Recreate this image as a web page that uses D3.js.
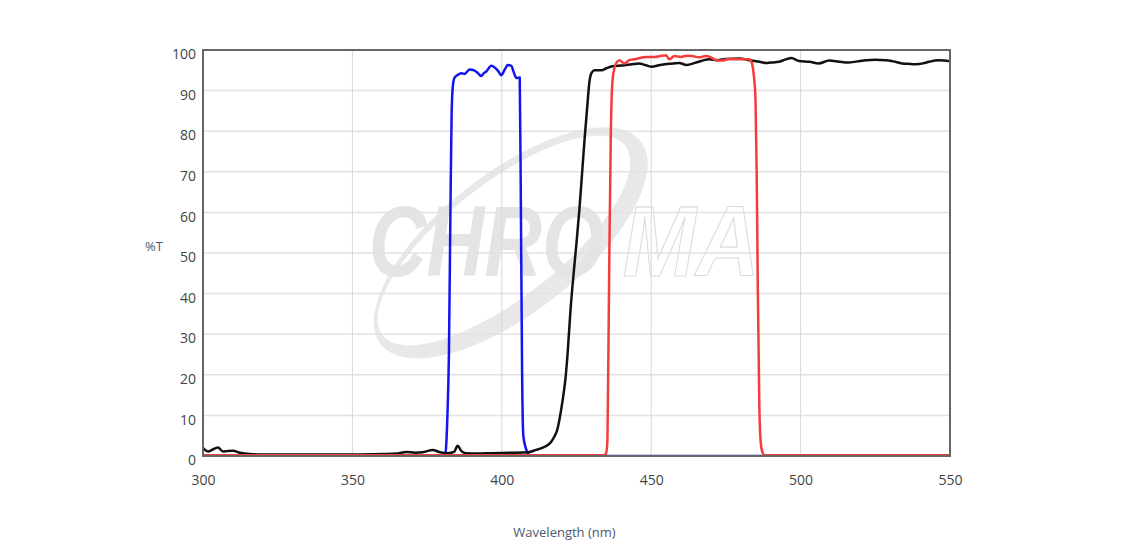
<!DOCTYPE html>
<html>
<head>
<meta charset="utf-8">
<script src="https://cdn.jsdelivr.net/npm/d3@7"></script>
<style>
  body { margin: 0; background: #fff; }
  svg { display: block; font-family: "Open Sans", "Noto Sans", sans-serif; }
</style>
</head>
<body>
<div id="chart"></div>
<script>
    // Transmission curves (wavelength in nm, %T)
    const blackWl = [300, 301.7, 303, 305, 306.7, 308, 310, 312.4, 315.7, 320, 330, 340, 350, 360, 365, 368, 371, 373.5, 376.9, 379, 382, 384, 385.2, 386.5, 388, 392, 396, 402.6, 408.7, 411.5, 413.5, 415.4, 416.6, 417.6, 418.5, 419.3, 420, 420.7, 421.3, 422, 423, 424.3, 425, 426, 427, 427.7, 428.7, 429.3, 430, 431, 433.4, 435, 437, 440, 443, 446, 448, 450, 453, 456, 459.4, 461.8, 465, 469.5, 472, 475, 479.5, 483, 486.2, 488.5, 490, 492.8, 494, 496.9, 499.5, 503, 506, 509.6, 513, 516, 519, 522, 525, 528.6, 531, 534, 536, 538.6, 541, 543, 546, 548, 550];
    const blackT = [2.0, 1.1, 1.5, 2.1, 1.1, 1.2, 1.3, 0.8, 0.5, 0.4, 0.4, 0.4, 0.4, 0.5, 0.6, 1.0, 0.8, 0.9, 1.5, 1.0, 0.7, 1.0, 2.5, 1.2, 0.7, 0.6, 0.7, 0.8, 0.9, 1.5, 2.0, 2.7, 3.6, 4.8, 6.3, 9, 12, 15.5, 19, 25, 36, 47, 52.5, 61, 71, 78, 87, 92, 94.3, 95, 95, 95.5, 96, 96.2, 96.4, 96.7, 96.3, 95.9, 96.3, 96.6, 96.8, 96.3, 96.9, 97.7, 97.5, 97.8, 97.9, 97.5, 97.1, 96.8, 96.9, 97.1, 97.4, 98, 97.3, 97.1, 96.7, 97.4, 97.1, 96.9, 97.2, 97.5, 97.6, 97.5, 97.2, 96.7, 96.6, 96.5, 96.7, 97.1, 97.5, 97.4, 97.2];

    const blueWl = [300, 381, 381.8, 382.3, 382.8, 383.2, 383.6, 384.2, 385.5, 386.5, 387.6, 388.3, 389.2, 390.9, 392, 393.1, 394, 394.8, 396.5, 397.6, 398.8, 399.8, 401, 402, 403.2, 404, 404.9, 406, 406.4, 406.8, 407.2, 408, 408.6, 409.3, 410, 550];
    const blueT = [0, 0, 10, 25, 60, 84, 91, 93.2, 94, 94.3, 94.1, 94.6, 95.2, 94.9, 94.3, 93.6, 94.3, 94.7, 96.1, 95.7, 94.8, 93.8, 95.2, 96.3, 96.1, 94.5, 93.1, 93.2, 60, 20, 5, 2, 0.8, 0.1, 0, 0];

    const redWl = [300, 434, 434.8, 435.3, 435.6, 436, 436.5, 437, 437.7, 438.5, 439.4, 441, 442.7, 445, 448.3, 451, 453, 455, 456, 457.8, 460, 462, 463.8, 466, 468.3, 470, 471.7, 473.8, 476, 479.5, 482.8, 483.6, 484.3, 484.9, 485.3, 485.7, 486.2, 486.7, 487.3, 488, 550];
    const redT = [0.2, 0.2, 0.5, 3, 20, 50, 80, 92, 95.6, 97, 97.5, 96.7, 97.5, 97.8, 98.3, 98.3, 98.5, 98.7, 97.7, 98.5, 98.3, 98.6, 98.5, 98.2, 98.5, 98.2, 97.5, 97.4, 97.8, 97.7, 97.7, 97, 94, 88, 70, 40, 12, 3, 0.8, 0.2, 0.2];

    const xTicks = [300, 350, 400, 450, 500, 550];
    const yTicks = [0, 10, 20, 30, 40, 50, 60, 70, 80, 90, 100];

    const series = [
        { name: "excitation", wl: blueWl, t: blueT, color: "#1414f0" },
        { name: "dichroic", wl: blackWl, t: blackT, color: "#111111" },
        { name: "emission", wl: redWl, t: redT, color: "#f53c3c" }
    ];

    // Set up the dimensions/margins of the chart
    const W = 1128, H = 558;
    const margin = { top: 50, right: 178, bottom: 102, left: 203 };
    const width = W - margin.left - margin.right;
    const height = H - margin.top - margin.bottom;

    const svg = d3.select("#chart").append("svg")
        .attr("width", W)
        .attr("height", H);

    const g = svg.append("g")
        .attr("transform", "translate(" + margin.left + "," + margin.top + ")");

    const x = d3.scaleLinear().domain([300, 550]).range([0, width]);
    const y = d3.scaleLinear().domain([0, 100]).range([height, 0]);

    // watermark
    const wm = g.append("g").attr("transform", "translate(" + (x(403)) + "," + (y(52.5)) + ")");
    const outer = "M-165,0a165,70 0 1,0 330,0a165,70 0 1,0 -330,0Z";
    const inner = "M-158,-6a154,57 0 1,0 308,0a154,57 0 1,0 -308,0Z";
    wm.append("path")
        .attr("d", outer + inner)
        .attr("fill-rule", "evenodd")
        .attr("fill", "#e8e8e8")
        .attr("transform", "rotate(-38)");

    const wmStyle = sel => sel
        .style("font-family", "'Liberation Sans', Arial, sans-serif")
        .style("font-weight", "bold")
        .style("font-style", "italic")
        .style("font-size", "100px");

    wm.append("text").call(wmStyle)
        .attr("transform", "translate(-142,33) scale(0.8,1)")
        .attr("fill", "#e4e4e4")
        .text("CHRO");
    wm.append("text").call(wmStyle)
        .attr("transform", "translate(112,33) scale(0.88,1)")
        .attr("fill", "none")
        .attr("stroke", "#dcdcdc")
        .attr("stroke-width", 1.2)
        .text("MA");

    // grid
    g.append("g").selectAll("line")
        .data(yTicks.slice(1, -1))
        .join("line")
        .attr("x1", 0).attr("x2", width)
        .attr("y1", d => y(d)).attr("y2", d => y(d))
        .attr("stroke", "#e2e2e2").attr("stroke-width", 1.5);

    g.append("g").selectAll("line")
        .data(xTicks.slice(1, -1))
        .join("line")
        .attr("y1", 0).attr("y2", height)
        .attr("x1", d => x(d)).attr("x2", d => x(d))
        .attr("stroke", "#d8d8d8").attr("stroke-width", 1);

    // curves
    g.append("clipPath").attr("id", "clip")
        .append("rect").attr("width", width).attr("height", height);

    const line = d3.line()
        .x(d => x(d[0]))
        .y(d => y(d[1]))
        .curve(d3.curveMonotoneX);

    g.append("g").attr("clip-path", "url(#clip)")
        .selectAll("path")
        .data(series)
        .join("path")
        .attr("d", s => line(s.wl.map((w, i) => [w, s.t[i]])))
        .attr("fill", "none")
        .attr("stroke", s => s.color)
        .attr("stroke-width", 2.5)
        .attr("stroke-linejoin", "round");

    // frame
    g.append("rect")
        .attr("width", width).attr("height", height)
        .attr("fill", "none")
        .attr("stroke", "#666").attr("stroke-width", 2);

    // axes
    const xAxis = d3.axisBottom(x).tickValues(xTicks).tickSize(0).tickPadding(19);
    const yAxis = d3.axisLeft(y).tickValues(yTicks).tickSize(0).tickPadding(7);

    const gx = g.append("g").attr("transform", "translate(0," + height + ")").call(xAxis);
    const gy = g.append("g").call(yAxis);
    [gx, gy].forEach(a => {
        a.select(".domain").remove();
        a.selectAll("text")
            .style("font-family", "'Open Sans', sans-serif")
            .style("font-size", "14px")
            .attr("fill", "#444");
    });
    // y labels sit a little below their grid lines in the original
    gy.selectAll("text").attr("dy", "0.62em");

    // axis titles
    svg.append("text")
        .attr("x", margin.left + width / 2 - 12)
        .attr("y", 537)
        .attr("text-anchor", "middle")
        .style("font-size", "13px")
        .attr("fill", "#4a5a72")
        .text("Wavelength (nm)");

    svg.append("text")
        .attr("x", 154)
        .attr("y", 251)
        .attr("text-anchor", "middle")
        .style("font-size", "13px")
        .attr("fill", "#4a5a72")
        .text("%T");
</script>
</body>
</html>
